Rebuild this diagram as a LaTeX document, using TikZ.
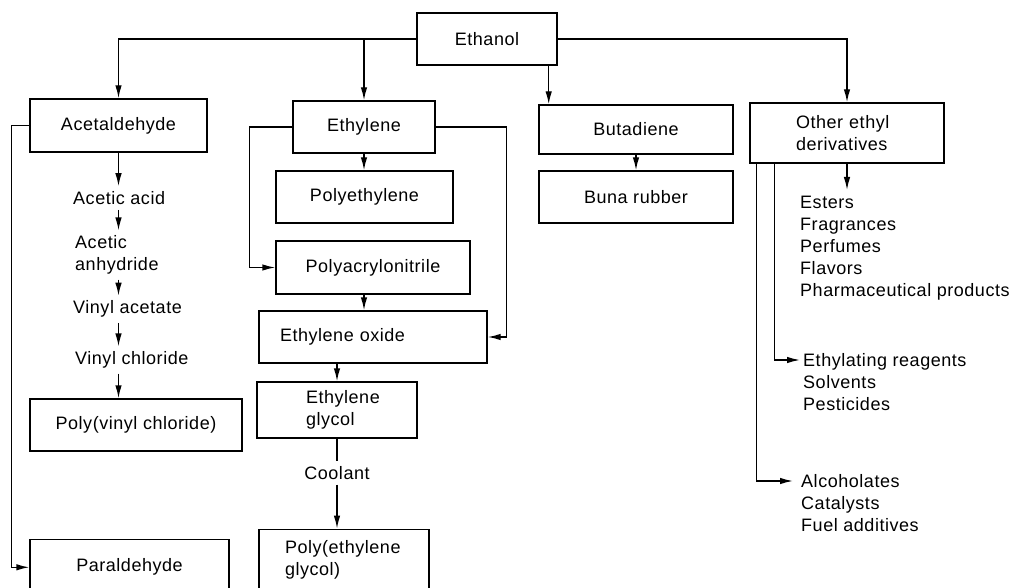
\documentclass[tikz,border=0pt]{standalone}
\usepackage{fontspec}
\setmainfont{Liberation Sans}[LetterSpace=3]
\usetikzlibrary{arrows.meta,calc}

\begin{document}
\begin{tikzpicture}[
    x=1pt, y=-1pt,
    every node/.style={font=\fontsize{18}{22}\selectfont},
    box/.style={draw, line width=1.4pt, inner sep=0pt, minimum height=52pt},
    item/.style={inner xsep=0pt, inner ysep=5pt, align=left},
    list/.style={inner sep=0pt, align=left, anchor=north west},
    arrow/.style={-{Latex[length=13pt,width=6.5pt]}, line width=1.4pt},
    link/.style={line width=1.4pt},
  ]
  \useasboundingbox (0,0) rectangle (1012,588);
  \clip (0,0) rectangle (1012,588);

  % Source
  \node[box, minimum width=140pt] (ethanol) at (487,39) {Ethanol};

  % First row
  \node[box, minimum width=177pt, minimum height=53pt] (acet) at (118.5,125.5) {Acetaldehyde};
  \node[box, minimum width=142pt] (ethyl) at (364,127) {Ethylene};
  \node[box, minimum width=194pt, minimum height=49pt] (buta) at (636,129.5) {Butadiene};
  \node[box, minimum width=194pt, minimum height=60pt, text width=102pt, align=left] (other) at (847,133) {Other ethyl\\derivatives};

  % Acetaldehyde branch
  \node[item, anchor=west] (acid) at (73,198) {Acetic acid};
  \node[item, anchor=west] (anhyd) at (75,255) {Acetic\\anhydride};
  \node[item, anchor=west] (vac) at (73,309.3) {Vinyl acetate};
  \node[item, anchor=west] (vcl) at (75,360) {Vinyl chloride};
  \node[box, minimum width=212pt] (pvc) at (136,425) {Poly(vinyl chloride)};
  \node[box, minimum width=199pt, minimum height=56pt] (para) at (129.5,567.3) {Paraldehyde};

  % Ethylene branch
  \node[box, minimum width=177pt] (polyeth) at (364.5,197) {Polyethylene};
  \node[box, minimum width=194pt, minimum height=53pt] (pan) at (373,267.5) {Polyacrylonitrile};
  \node[box, minimum width=228pt, text width=186pt, align=left] (eo) at (373,337) {Ethylene oxide};
  \node[box, minimum width=160pt, minimum height=56pt, text width=62pt, align=left] (eg) at (337,410) {Ethylene\\glycol};
  \node[item] (cool) at (337,472.7) {Coolant};
  \node[box, minimum width=170pt, minimum height=62pt, text width=118pt, align=left] (peg) at (344,560.3) {Poly(ethylene\\glycol)};

  % Butadiene branch
  \node[box, minimum width=194pt] (buna) at (636,197) {Buna rubber};

  % Other ethyl derivatives
  \node[list, inner ysep=6pt] (uses) at (800,190) {Esters\\Fragrances\\Perfumes\\Flavors\\Pharmaceutical products};
  \node[list] (agents) at (803,353.5) {Ethylating reagents\\Solvents\\Pesticides};
  \node[list] (misc) at (801,474.5) {Alcoholates\\Catalysts\\Fuel additives};
  \coordinate (tapA) at ($(other.south west)+(7,0)$);
  \coordinate (tapB) at ($(other.south west)+(25.3,0)$);
  \coordinate (drop) at ($(ethanol.south east)+(-9,0)$);

  % Arrows from ethanol
  \draw[arrow] (ethanol.west) -| (acet.north);
  \draw[arrow] (ethyl |- ethanol.west) -- (ethyl.north);
  \draw[arrow] (drop) -- (drop |- buta.north);
  \draw[arrow] (ethanol.east) -| (other.north);

  % Acetaldehyde chain
  \draw[arrow] (acet.south) -- (acet.south |- acid.north);
  \draw[arrow] (acet |- acid.south) -- (acet |- anhyd.north);
  \draw[arrow] (acet |- anhyd.south) -- (acet |- vac.north);
  \draw[arrow] (acet |- vac.south) -- (acet |- vcl.north);
  \draw[arrow] (acet |- vcl.south) -- (acet |- pvc.north);
  \draw[arrow] (acet.west) -- ++(-17.7,0) |- (para.west);

  % Ethylene chain
  \draw[arrow] (ethyl.south) -- (ethyl.south |- polyeth.north);
  \draw[arrow] (ethyl.west) -- ++(-42.6,0) |- (pan.west);
  \draw[arrow] (ethyl.east) -- ++(70.7,0) |- (eo.east);
  \draw[arrow] (ethyl |- pan.south) -- (ethyl |- eo.north);
  \draw[arrow] (eg |- eo.south) -- (eg.north);
  \draw[link] (eg.south) -- (cool.north);
  \draw[arrow] (cool.south) -- (cool.south |- peg.north);

  % Butadiene
  \draw[arrow] (buta.south) -- (buna.north);

  % Other derivatives
  \draw[arrow] (other.south) -- (other.south |- uses.north);
  \draw[arrow] (tapB) |- ($(agents.north west)+(-3,6.5)$);
  \draw[arrow] (tapA) |- ($(misc.north west)+(-8,6.5)$);
\end{tikzpicture}
\end{document}
